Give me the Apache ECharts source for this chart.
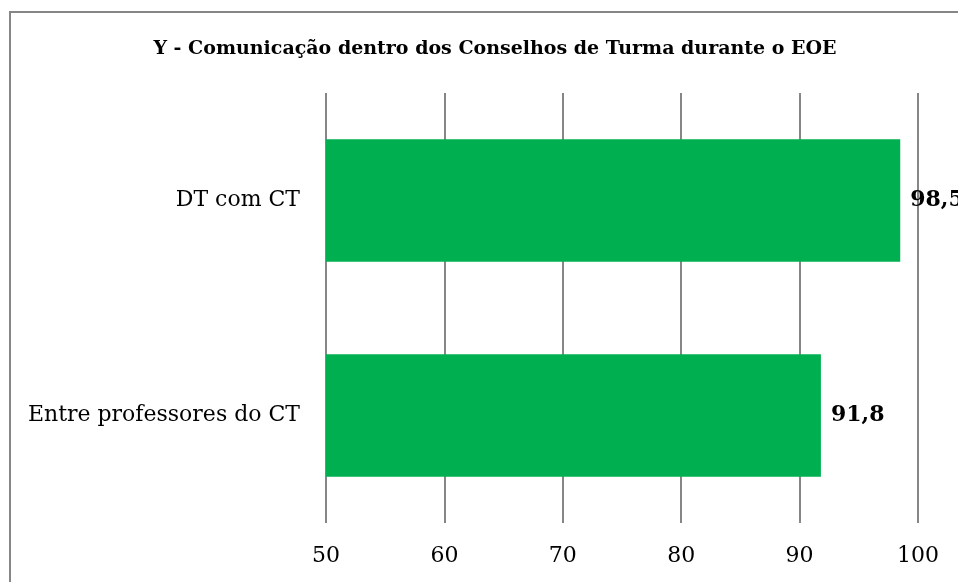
<!DOCTYPE html>
<html lang="pt">
<head>
    <meta charset="UTF-8">
    <title>Comunicação CT</title>
    <script type="text/javascript" src="https://cdn.jsdelivr.net/npm/echarts@6/dist/echarts.min.js"></script>
    <style>
        html, body { margin: 0; padding: 0; background: #fff; }
    </style>
</head>
<body>
<div id="main" style="width: 958px;height:582px;"></div>

<script>
    // dados do gráfico
    var categorias = ['DT com CT', 'Entre professores do CT'];
    var valores = [98.5, 91.8];
    var eixoMin = 50;
    var eixoMax = 100;
    var eixoPasso = 10;

    var fonte = '"DejaVu Serif", "Liberation Serif", serif';

    var myChart = echarts.init(document.getElementById('main'));
    myChart.setOption({
        animation: false,
        title: {
            text: 'Y - Comunicação dentro dos Conselhos de Turma durante o EOE',
            left: 490,
            textAlign: 'center',
            top: 35,
            textStyle: { fontFamily: fonte, fontWeight: 'bold', fontSize: 19, color: '#000' }
        },
        graphic: [{
            type: 'rect',
            shape: { x: 10, y: 12, width: 1000, height: 1000 },
            style: { fill: 'none', stroke: '#868686', lineWidth: 2 }
        }],
        grid: { left: 326, right: 40, top: 93, bottom: 59 },
        xAxis: {
            type: 'value',
            min: eixoMin,
            max: eixoMax,
            interval: eixoPasso,
            axisLine: { show: false },
            axisTick: { show: false },
            axisLabel: { margin: 22, fontFamily: fonte, fontSize: 22, color: '#000' },
            splitLine: { show: true, lineStyle: { color: '#868686', width: 2 } }
        },
        yAxis: {
            type: 'category',
            inverse: true,
            data: categorias,
            axisLine: { show: false },
            axisTick: { show: false },
            axisLabel: { margin: 26, fontFamily: fonte, fontSize: 22, color: '#000' }
        },
        series: [{
            type: 'bar',
            data: valores,
            barCategoryGap: '43%',
            itemStyle: { color: '#00B050' },
            label: {
                show: true,
                position: 'right',
                distance: 10,
                fontFamily: fonte,
                fontWeight: 'bold',
                fontSize: 22,
                color: '#000',
                formatter: function (p) { return String(p.value).replace('.', ','); }
            }
        }]
    });
</script>
</body>
</html>
